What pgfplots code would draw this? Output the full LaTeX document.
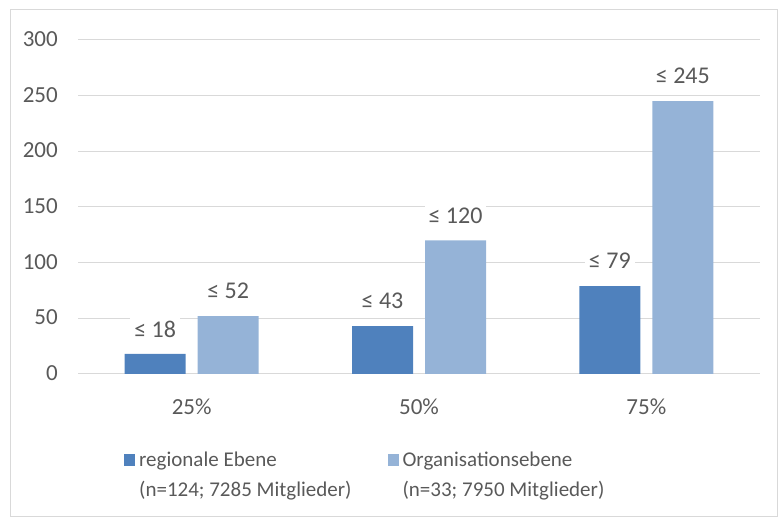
\documentclass[border=0pt]{standalone}
\usepackage{pgfplots}
\pgfplotsset{compat=1.18}
\usepackage{fontspec}
\setmainfont{Carlito}
\definecolor{darkblue}{HTML}{4F81BD}
\definecolor{lightblue}{HTML}{95B3D7}
\definecolor{txt}{HTML}{595959}
\definecolor{gridc}{HTML}{D9D9D9}
\begin{document}
\fontsize{21}{30}\selectfont
\begin{tikzpicture}
\path[use as bounding box] (0pt,0pt) rectangle (779pt,519pt);
\draw[gridc, line width=1pt] (10.5pt,2pt) rectangle (777pt,509pt);
\begin{axis}[
  at={(78pt,145pt)}, anchor=south west,
  scale only axis, width=682pt, height=334pt,
  xmin=-0.5, xmax=2.5, ymin=0, ymax=300,
  ytick={0,50,...,300},
  xtick={0,1,2}, xticklabels={25\%,50\%,75\%},
  yticklabel={\pgfmathprintnumber{\tick}},
  axis line style={draw=none}, tick style={draw=none},
  major tick length=0pt,
  ymajorgrids, grid style={gridc, line width=1pt},
  tick label style={font=\fontsize{23}{26}\selectfont, text=txt},
  yticklabel style={anchor=east, inner sep=0pt, xshift=-20pt, yshift=1pt},
  xticklabel style={anchor=center, inner sep=0pt, yshift=-32.5pt},
  /pgf/number format/assume math mode=true,
  ybar, bar width=61pt,
  nodes near coords={≤ \pgfmathprintnumber{\pgfplotspointmeta}},
  nodes near coords style={anchor=center, yshift=25pt, fill=white, inner sep=4pt, text=txt, font=\fontsize{24}{26}\selectfont},
  legend columns=2,
  legend style={draw=none, fill=none, at={(0.0674,-0.2126)}, anchor=north west, inner sep=0pt,
    font=\fontsize{21}{30}\selectfont, text=txt,
    /tikz/every even column/.append style={column sep=36pt},
    nodes={inner sep=0pt, anchor=base, text=txt}},
  legend cell align=left,
]
\addplot[fill=darkblue, draw=none, bar shift=-36.5pt,
  legend image code/.code={\fill[darkblue] (0pt,0pt) rectangle (11pt,12pt); \path (15pt,0pt);}]
  coordinates {(0,18) (1,43) (2,79)};
\addplot[fill=lightblue, draw=none, bar shift=36.5pt,
  legend image code/.code={\fill[lightblue] (0pt,0pt) rectangle (11pt,12pt); \path (15pt,0pt);}]
  coordinates {(0,52) (1,120) (2,245)};
\legend{{\begin{tabular}[t]{@{}l@{}}regionale Ebene\\(n=124; 7285 Mitglieder)\end{tabular}},
        {\begin{tabular}[t]{@{}l@{}}Organisationsebene\\(n=33; 7950 Mitglieder)\end{tabular}}}
\end{axis}
\end{tikzpicture}
\end{document}
